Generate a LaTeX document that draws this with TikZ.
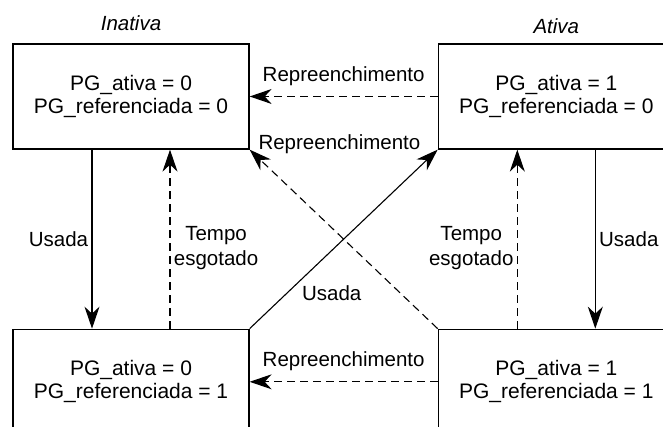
\documentclass[tikz,border=0pt]{standalone}
\usepackage{fontspec}
\setmainfont{Liberation Sans}
\usetikzlibrary{positioning, arrows.meta}
\tikzset{
  pg state/.style={
    draw,
    line width=1.3pt,
    minimum width=236pt,
    minimum height=105pt,
    align=center,
    font=\fontsize{21}{23}\selectfont
  },
  pg arrow/.style={
    -{Stealth[length=22pt, width=15pt, inset=7pt]},
    line width=1.1pt
  },
  pg dashed/.style={
    pg arrow,
    dash pattern=on 8pt off 5pt
  },
  pg label/.style={
    align=center,
    font=\fontsize{20.5}{25}\selectfont
  },
  pg title/.style={
    font=\fontsize{20.5}{24}\selectfont\itshape
  }
}

\begin{document}
\begin{tikzpicture}[x=1pt, y=1pt]
  \useasboundingbox (0,0) rectangle (663,427);
  \clip (0,0) rectangle (663,427);

  \node[pg state] (pg00) at (131,330.5) {PG\_ativa = 0 \\ PG\_referenciada = 0};
  \node[pg state, right=188pt of pg00] (pg10) {PG\_ativa = 1 \\ PG\_referenciada = 0};
  \node[pg state, below=179pt of pg00] (pg01) {PG\_ativa = 0 \\ PG\_referenciada = 1};
  \node[pg state, right=188pt of pg01] (pg11) {PG\_ativa = 1 \\ PG\_referenciada = 1};

  \node[pg title, above=9pt of pg00] (inativa) {Inativa};
  \node[pg title, above=6pt of pg10] (ativa) {Ativa};

  \draw[pg dashed] (pg10) -- node[pg label, above=7pt] {Repreenchimento} (pg00);
  \draw[pg dashed] (pg11) -- node[pg label, above=7pt] {Repreenchimento} (pg01);
  \draw[pg dashed] (pg11.north west) -- node[pg label, pos=1, anchor=base west, xshift=5pt] {Repreenchimento} (pg00.south east);
  \draw[pg arrow] (pg01.north east) -- node[pg label, pos=0.2, anchor=west, xshift=11pt] {Usada} (pg10.south west);

  \draw[pg arrow] ([xshift=-39pt]pg00.south) -- node[pg label, left] {Usada} ([xshift=-39pt]pg01.north);
  \draw[pg dashed] ([xshift=39pt]pg01.north) -- node[pg label, right, yshift=-9pt] {Tempo \\ esgotado} ([xshift=39pt]pg00.south);
  \draw[pg dashed] ([xshift=-39pt]pg11.north) -- node[pg label, left, yshift=-9pt] {Tempo \\ esgotado} ([xshift=-39pt]pg10.south);
  \draw[pg arrow] ([xshift=39pt]pg10.south) -- node[pg label, right] {Usada} ([xshift=39pt]pg11.north);
\end{tikzpicture}
\end{document}
